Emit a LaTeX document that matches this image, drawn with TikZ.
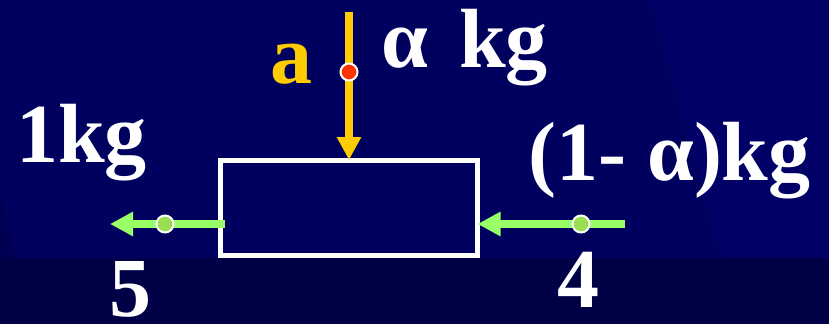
\documentclass[tikz,border=0pt]{standalone}
\usepackage{fontspec}
\setmainfont{Liberation Serif}
\usetikzlibrary{arrows.meta}
\definecolor{bgmain}{HTML}{00005E}
\definecolor{bglight}{HTML}{000066}
\definecolor{bgdark}{HTML}{000046}
\definecolor{bgcorner}{HTML}{000052}
\definecolor{flowor}{HTML}{FFCC00}
\definecolor{flowgr}{HTML}{99FF66}
\definecolor{dotgr}{HTML}{99DD55}
\definecolor{dotred}{HTML}{FF3300}
\tikzset{
  lbl/.style={text=white, font=\bfseries\fontsize{84}{90}\selectfont, inner sep=0pt},
  flowbox/.style={draw=white, line width=5pt, minimum width=257pt, minimum height=95.5pt, inner sep=0pt, outer sep=0pt},
  orflow/.style={draw=flowor, line width=7.5pt, -{Triangle[length=23pt,width=23pt]}},
  grflow/.style={draw=flowgr, line width=8pt, -{Triangle[length=23pt,width=23pt]}},
  pt/.style={circle, draw=white, line width=2pt, minimum size=17pt, inner sep=0pt},
}
\begin{document}
\begin{tikzpicture}[x=1pt,y=-1pt]
\useasboundingbox (0,0) rectangle (829,324);
% background
\fill[bgmain] (0,0) rectangle (829,324);
\fill[bglight] (651,0) -- (829,0) -- (829,258) -- (722,258) -- cycle;
\fill[bgcorner] (0,195) -- (16,258) -- (0,258) -- cycle;
\fill[bgdark] (0,258) rectangle (829,324);
% box
\node[flowbox] (box) at (349,207.75) {};
% coordinates
\coordinate (aTop) at (349,12);
\coordinate (s5) at (225,224);
\coordinate (e5) at (110,224);
\coordinate (s4) at (625,224);
% arrows
\draw[orflow] (aTop) -- (box.north);
\draw[grflow] (s5) -- (e5);
\draw[grflow] (s4) -- (box.east |- s4);
% dots
\node[pt, fill=dotred] (pa) at (349,72) {};
\node[pt, fill=dotgr] (p5) at (165,224) {};
\node[pt, fill=dotgr] (p4) at (581,224) {};
% labels
\node[lbl, text=flowor, anchor=base west] (la) at (270,83) {a};
\node[lbl, anchor=base west] (lalpha) at (381,67) {α\hspace{0.12em} kg};
\node[lbl, anchor=base west] (l1kg) at (16,162) {1kg};
\node[lbl, anchor=base west] (l1ma) at (528,180) {(1- α)kg};
\node[lbl, anchor=base] (l4) at (578,307) {4};
\node[lbl, anchor=base] (l5) at (130,316) {5};
\end{tikzpicture}
\end{document}
